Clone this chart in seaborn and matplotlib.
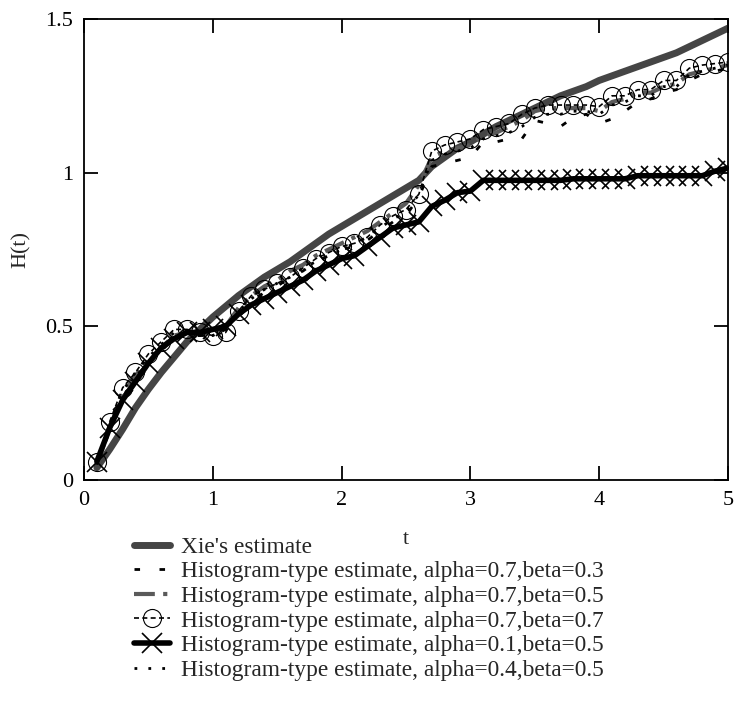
import numpy as np
import pandas as pd
import matplotlib
matplotlib.use("Agg")
import matplotlib.pyplot as plt
import seaborn as sns

# Tidpunkter (t), ett värde per 0.1
t = [0.1, 0.2, 0.3, 0.4, 0.5, 0.6, 0.7, 0.8, 0.9, 1.0,
     1.1, 1.2, 1.3, 1.4, 1.5, 1.6, 1.7, 1.8, 1.9, 2.0,
     2.1, 2.2, 2.3, 2.4, 2.5, 2.6, 2.7, 2.8, 2.9, 3.0,
     3.1, 3.2, 3.3, 3.4, 3.5, 3.6, 3.7, 3.8, 3.9, 4.0,
     4.1, 4.2, 4.3, 4.4, 4.5, 4.6, 4.7, 4.8, 4.9, 5.0]

xie = [0.04, 0.10, 0.165, 0.235, 0.295, 0.35, 0.40, 0.45, 0.49, 0.53,
       0.565, 0.60, 0.63, 0.66, 0.685, 0.71, 0.74, 0.77, 0.80, 0.825,
       0.85, 0.875, 0.90, 0.925, 0.95, 0.975, 1.02, 1.05, 1.08, 1.10,
       1.125, 1.15, 1.17, 1.19, 1.21, 1.23, 1.25, 1.265, 1.28, 1.30,
       1.315, 1.33, 1.345, 1.36, 1.375, 1.39, 1.41, 1.43, 1.45, 1.47]

h_07_03 = [0.05, 0.16, 0.27, 0.33, 0.38, 0.43, 0.46, 0.47, 0.47, 0.47,
           0.49, 0.54, 0.58, 0.61, 0.63, 0.66, 0.68, 0.71, 0.73, 0.75,
           0.76, 0.78, 0.81, 0.84, 0.86, 0.92, 1.02, 1.03, 1.04, 1.05,
           1.10, 1.10, 1.11, 1.11, 1.17, 1.16, 1.15, 1.18, 1.19, 1.16,
           1.175, 1.20, 1.23, 1.24, 1.26, 1.27, 1.30, 1.32, 1.33, 1.34]

h_07_05 = [0.05, 0.17, 0.28, 0.34, 0.39, 0.43, 0.47, 0.48, 0.48, 0.48,
           0.50, 0.56, 0.60, 0.63, 0.65, 0.68, 0.70, 0.73, 0.75, 0.77,
           0.79, 0.81, 0.84, 0.87, 0.90, 0.96, 1.05, 1.07, 1.08, 1.09,
           1.12, 1.13, 1.15, 1.17, 1.20, 1.21, 1.21, 1.21, 1.21, 1.20,
           1.23, 1.24, 1.26, 1.26, 1.28, 1.29, 1.32, 1.33, 1.34, 1.35]

h_07_07 = [0.06, 0.19, 0.30, 0.35, 0.41, 0.45, 0.49, 0.49, 0.48, 0.47,
           0.48, 0.55, 0.60, 0.62, 0.64, 0.66, 0.69, 0.72, 0.74, 0.76,
           0.77, 0.79, 0.83, 0.86, 0.88, 0.93, 1.07, 1.09, 1.10, 1.11,
           1.14, 1.15, 1.16, 1.19, 1.21, 1.22, 1.22, 1.22, 1.22, 1.215,
           1.25, 1.25, 1.27, 1.27, 1.30, 1.30, 1.34, 1.35, 1.355, 1.36]

h_01_05 = [0.06, 0.17, 0.26, 0.32, 0.38, 0.43, 0.46, 0.48, 0.48, 0.49,
           0.50, 0.54, 0.57, 0.59, 0.61, 0.63, 0.65, 0.68, 0.70, 0.72,
           0.73, 0.76, 0.79, 0.82, 0.83, 0.84, 0.89, 0.91, 0.935, 0.94,
           0.975, 0.975, 0.975, 0.975, 0.975, 0.975, 0.975, 0.98, 0.98, 0.98,
           0.98, 0.98, 0.99, 0.99, 0.99, 0.99, 0.99, 0.99, 1.005, 1.015]

h_04_05 = [0.05, 0.17, 0.29, 0.35, 0.40, 0.44, 0.48, 0.48, 0.47, 0.47,
           0.49, 0.55, 0.59, 0.62, 0.64, 0.66, 0.69, 0.71, 0.73, 0.75,
           0.77, 0.79, 0.82, 0.85, 0.87, 0.93, 1.04, 1.06, 1.07, 1.08,
           1.11, 1.12, 1.13, 1.15, 1.18, 1.19, 1.19, 1.20, 1.20, 1.19,
           1.22, 1.23, 1.25, 1.25, 1.28, 1.28, 1.32, 1.33, 1.34, 1.35]

labels = ["Xie's estimate",
          "Histogram-type estimate, alpha=0.7,beta=0.3",
          "Histogram-type estimate, alpha=0.7,beta=0.5",
          "Histogram-type estimate, alpha=0.7,beta=0.7",
          "Histogram-type estimate, alpha=0.1,beta=0.5",
          "Histogram-type estimate, alpha=0.4,beta=0.5"]

df = pd.DataFrame({"t": t, "xie": xie, "h1": h_07_03, "h2": h_07_05,
                   "h3": h_07_07, "h4": h_01_05, "h5": h_04_05})

sns.set_theme(style="ticks")
plt.rcParams['font.family'] = ['Liberation Serif', 'DejaVu Serif']

fig = plt.figure(figsize=(7.34, 7.19), dpi=100)
ax = fig.add_axes([0.1144, 0.3324, 0.8774, 0.6412])

# Xie (tjock grå linje)
sns.lineplot(data=df, x="t", y="xie", ax=ax, color="#454545", linewidth=5,
             label=labels[0])
# alpha=0.7, beta=0.3 (korta svarta streck)
sns.lineplot(data=df, x="t", y="h1", ax=ax, color="black", linewidth=2,
             linestyle=(0, (2, 7)), label=labels[1])
# alpha=0.7, beta=0.5 (grå streck-punkt)
sns.lineplot(data=df, x="t", y="h2", ax=ax, color="#5a5a5a", linewidth=3,
             linestyle=(0, (5, 2, 1, 2)), label=labels[2])
# alpha=0.7, beta=0.7 (cirklar)
sns.lineplot(data=df, x="t", y="h3", ax=ax, color="black", linewidth=1.2,
             linestyle=(0, (3, 2)), marker="o", markersize=13,
             markerfacecolor="none", markeredgecolor="black",
             markeredgewidth=0.8, label=labels[3])
# alpha=0.1, beta=0.5 (tjock svart med kryss)
sns.lineplot(data=df, x="t", y="h4", ax=ax, color="black", linewidth=4,
             marker="x", markersize=14, markeredgewidth=1.2,
             markeredgecolor="black", label=labels[4])
# alpha=0.4, beta=0.5 (prickad)
sns.lineplot(data=df, x="t", y="h5", ax=ax, color="black", linewidth=2,
             linestyle=(0, (1, 4)), label=labels[5])

ax.set_xlim(0, 5)
ax.set_ylim(0, 1.5)
ax.set_xticks([0, 1, 2, 3, 4, 5])
ax.set_xticklabels(["0", "1", "2", "3", "4", "5"])
ax.set_yticks([0, 0.5, 1, 1.5])
ax.set_yticklabels(["0", "0.5", "1", "1.5"])
ax.tick_params(direction="in", length=10, width=1.3, top=True, right=True,
               labelsize=16, pad=8, colors="black")
for s in ax.spines.values():
    s.set_visible(True)
    s.set_linewidth(1.3)
    s.set_color("black")
ax.set_xlabel("t", fontsize=16, labelpad=14)
ax.set_ylabel("H(t)", fontsize=16, labelpad=10)
ax.grid(False)

handles, labs = ax.get_legend_handles_labels()
ax.get_legend().remove()
fig.legend(handles, labs, loc="upper left", bbox_to_anchor=(0.183, 0.254),
           frameon=False, fontsize=16.8, handlelength=1.55, handletextpad=0.45,
           labelspacing=0.14, borderpad=0, borderaxespad=0)

fig.savefig("out.png", dpi=100)
